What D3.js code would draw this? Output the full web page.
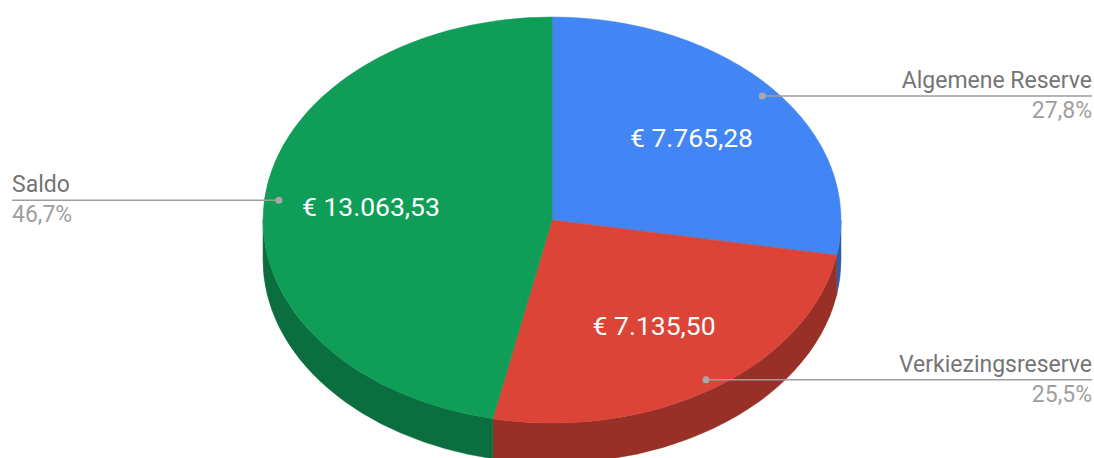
<!DOCTYPE html>
<html>
<head>
<meta charset="utf-8">
<script src="https://cdn.jsdelivr.net/npm/d3@7"></script>
<style>
  body { margin: 0; background: #fff; }
  svg { display: block; font-family: Roboto, "Noto Sans", sans-serif; }
</style>
</head>
<body>
<div id="chart-area"></div>
<script>
const categories = ["Algemene Reserve", "Verkiezingsreserve", "Saldo"];
const values = [7765.28, 7135.50, 13063.53];
const colors = ["#4285f4", "#db4437", "#0f9d58"];

const width = 1094;
const height = 458;
const cx = 552, cy = 220;   // centre of the top face
const rx = 289, ry = 203;   // tilted ellipse
const depth = 40;

const nl = d3.formatLocale({ decimal: ",", thousands: ".", grouping: [3], currency: ["€ ", ""] });
const money = nl.format("$,.2f");
const pct = nl.format(".1%");

const svg = d3.select("#chart-area")
    .append("svg")
    .attr("width", width)
    .attr("height", height);

const total = d3.sum(values);
const data = categories.map((c, i) => ({ name: c, value: values[i], color: colors[i] }));

const pie = d3.pie()
    .value(d => d.value)
    .sort(null);

const arcs = pie(data);

// flat pie angle -> point on the ellipse
const px = (a, f = 1) => cx + rx * f * Math.sin(a);
const py = (a, f = 1) => cy - ry * f * Math.cos(a);

// side walls: only the front half (90deg..270deg) can be seen
const side = svg.append("g");
arcs.forEach(d => {
    const s = Math.max(d.startAngle, Math.PI / 2);
    const e = Math.min(d.endAngle, 3 * Math.PI / 2);
    if (e <= s) return;
    const large = e - s > Math.PI ? 1 : 0;
    side.append("path")
        .attr("d", `M${px(s)},${py(s)} A${rx},${ry} 0 ${large} 1 ${px(e)},${py(e)}` +
                   ` L${px(e)},${py(e) + depth} A${rx},${ry} 0 ${large} 0 ${px(s)},${py(s) + depth} Z`)
        .attr("fill", d3.color(d.data.color).darker(1))
        .attr("stroke", d3.color(d.data.color).darker(1))
        .attr("stroke-width", 0.5);
});

// top faces
svg.append("g").selectAll("path")
    .data(arcs)
    .enter().append("path")
    .attr("d", d => {
        const large = d.endAngle - d.startAngle > Math.PI ? 1 : 0;
        return `M${cx},${cy} L${px(d.startAngle)},${py(d.startAngle)}` +
               ` A${rx},${ry} 0 ${large} 1 ${px(d.endAngle)},${py(d.endAngle)} Z`;
    })
    .attr("fill", d => d.data.color)
    .attr("stroke", d => d.data.color)
    .attr("stroke-width", 0.5);

// value labels inside the slices
svg.append("g").selectAll("text")
    .data(arcs)
    .enter().append("text")
    .attr("x", d => px((d.startAngle + d.endAngle) / 2, 0.63))
    .attr("y", d => py((d.startAngle + d.endAngle) / 2, 0.63))
    .attr("dy", "0.35em")
    .attr("text-anchor", "middle")
    .attr("fill", "#fff")
    .style("font-size", "26.5px")
    .text(d => money(d.data.value));

// leader lines + outside labels
const lab = svg.append("g").selectAll("g")
    .data(arcs)
    .enter().append("g");

lab.each(function(d) {
    const g = d3.select(this);
    const mid = (d.startAngle + d.endAngle) / 2;
    const x0 = px(mid, 0.95), y0 = py(mid, 0.95);
    const right = x0 > cx;
    const xe = right ? 1092 : 12;
    g.append("line")
        .attr("x1", x0).attr("y1", y0)
        .attr("x2", xe).attr("y2", y0)
        .attr("stroke", "#9e9e9e")
        .attr("stroke-width", 1.5);
    g.append("circle")
        .attr("cx", x0).attr("cy", y0)
        .attr("r", 3.5)
        .attr("fill", "#a8a8a8");
    g.append("text")
        .attr("x", xe).attr("y", y0 - 8)
        .attr("text-anchor", right ? "end" : "start")
        .attr("fill", "#757575")
        .style("font-size", "23px")
        .text(d.data.name);
    g.append("text")
        .attr("x", xe).attr("y", y0 + 22)
        .attr("text-anchor", right ? "end" : "start")
        .attr("fill", "#9e9e9e")
        .style("font-size", "23px")
        .text(pct(d.value / total));
});
</script>
</body>
</html>
